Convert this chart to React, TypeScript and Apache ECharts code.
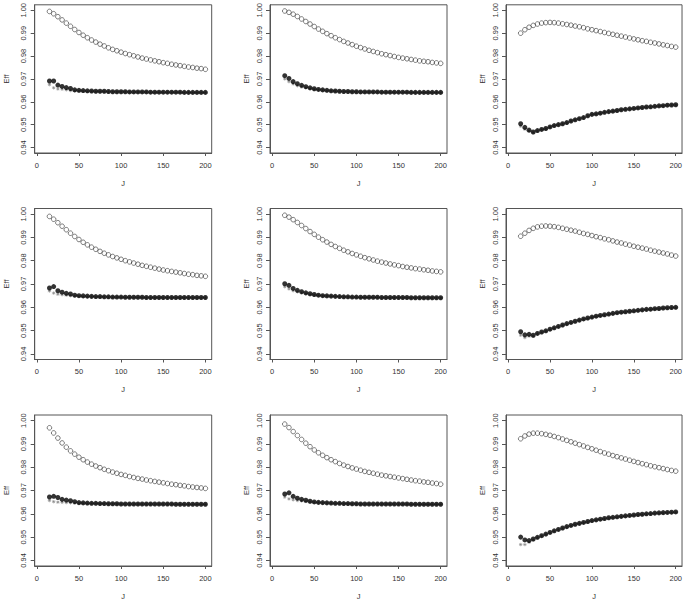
import React, { useEffect, useRef } from "react";
import * as echarts from "echarts";

const J = [15,20,25,30,35,40,45,50,55,60,65,70,75,80,85,90,95,100,105,110,115,120,125,130,135,140,145,150,155,160,165,170,175,180,185,190,195,200];
const xTicks = [0, 50, 100, 150, 200];
const yTicks = [0.94, 0.95, 0.96, 0.97, 0.98, 0.99, 1.0];

const p1Open = [0.9995,0.9985,0.9972,0.9958,0.9944,0.9930,0.9916,0.9903,0.9891,0.9880,0.9870,0.9861,0.9852,0.9844,0.9836,0.9829,0.9823,0.9817,0.9811,0.9806,0.9801,0.9796,0.9791,0.9787,0.9783,0.9779,0.9775,0.9771,0.9768,0.9764,0.9761,0.9758,0.9755,0.9752,0.9750,0.9747,0.9745,0.9742];
const p1Fill = [0.9691,0.9691,0.9673,0.9667,0.9662,0.9658,0.9652,0.9650,0.9649,0.9648,0.9647,0.9646,0.9646,0.9646,0.9645,0.9644,0.9644,0.9644,0.9644,0.9643,0.9643,0.9643,0.9643,0.9643,0.9642,0.9642,0.9642,0.9642,0.9642,0.9642,0.9642,0.9642,0.9641,0.9641,0.9641,0.9641,0.9641,0.9641];
const p1Gray = [0.9675,0.9661,0.9656,0.9655,0.9652,0.9649,0.9648,0.9647,0.9646,0.9645,0.9645,0.9644,0.9644,0.9644,0.9643,0.9643,0.9643,0.9643,0.9643,0.9642,0.9642,0.9642,0.9642,0.9642,0.9641,0.9641,0.9641,0.9641,0.9641,0.9641,0.9641,0.9641,0.9640,0.9640,0.9640,0.9640,0.9640,0.9640];

const p2Open = [0.9997,0.9991,0.9983,0.9973,0.9962,0.9951,0.9940,0.9929,0.9918,0.9908,0.9898,0.9889,0.9880,0.9872,0.9864,0.9857,0.9850,0.9843,0.9837,0.9831,0.9825,0.9820,0.9815,0.9810,0.9806,0.9802,0.9798,0.9794,0.9791,0.9788,0.9785,0.9782,0.9779,0.9777,0.9775,0.9772,0.9770,0.9768];
const p2Fill = [0.9714,0.9702,0.9688,0.9679,0.9672,0.9666,0.9661,0.9657,0.9654,0.9652,0.9650,0.9648,0.9647,0.9646,0.9645,0.9645,0.9644,0.9644,0.9643,0.9643,0.9643,0.9643,0.9643,0.9642,0.9642,0.9642,0.9642,0.9642,0.9642,0.9642,0.9641,0.9641,0.9641,0.9641,0.9641,0.9641,0.9641,0.9641];
const p2Gray = [0.9700,0.9688,0.9678,0.9670,0.9665,0.9661,0.9657,0.9654,0.9652,0.9650,0.9648,0.9647,0.9646,0.9645,0.9644,0.9644,0.9643,0.9643,0.9642,0.9642,0.9642,0.9642,0.9642,0.9641,0.9641,0.9641,0.9641,0.9641,0.9641,0.9641,0.9640,0.9640,0.9640,0.9640,0.9640,0.9640,0.9640,0.9640];

const p3Open = [0.9900,0.9915,0.9926,0.9934,0.9940,0.9944,0.9946,0.9947,0.9946,0.9944,0.9941,0.9938,0.9935,0.9931,0.9928,0.9924,0.9919,0.9915,0.9911,0.9907,0.9903,0.9899,0.9895,0.9891,0.9887,0.9883,0.9879,0.9875,0.9871,0.9867,0.9864,0.9860,0.9857,0.9853,0.9849,0.9846,0.9842,0.9839];
const p3Fill = [0.9504,0.9488,0.9476,0.9468,0.9474,0.9479,0.9483,0.9490,0.9496,0.9500,0.9504,0.9509,0.9516,0.9521,0.9526,0.9531,0.9539,0.9545,0.9547,0.9550,0.9554,0.9557,0.9559,0.9562,0.9565,0.9567,0.9569,0.9571,0.9573,0.9575,0.9577,0.9578,0.9580,0.9582,0.9583,0.9585,0.9586,0.9587];
const p3Gray = [0.9493,0.9480,0.9472,0.9466,0.9472,0.9478,0.9482,0.9489,0.9495,0.9499,0.9503,0.9508,0.9515,0.9520,0.9525,0.9530,0.9538,0.9544,0.9546,0.9549,0.9553,0.9556,0.9558,0.9561,0.9564,0.9566,0.9568,0.9570,0.9572,0.9574,0.9576,0.9577,0.9579,0.9581,0.9582,0.9584,0.9585,0.9586];

const p4Open = [0.9990,0.9978,0.9963,0.9948,0.9933,0.9918,0.9904,0.9891,0.9879,0.9868,0.9858,0.9849,0.9840,0.9832,0.9825,0.9818,0.9812,0.9806,0.9800,0.9795,0.9790,0.9785,0.9780,0.9776,0.9772,0.9768,0.9764,0.9760,0.9757,0.9754,0.9751,0.9748,0.9745,0.9742,0.9740,0.9737,0.9735,0.9733];
const p4Fill = [0.9683,0.9689,0.9671,0.9665,0.9660,0.9657,0.9652,0.9650,0.9649,0.9648,0.9647,0.9646,0.9646,0.9645,0.9645,0.9644,0.9644,0.9644,0.9643,0.9643,0.9643,0.9643,0.9643,0.9642,0.9642,0.9642,0.9642,0.9642,0.9642,0.9642,0.9642,0.9642,0.9642,0.9642,0.9642,0.9642,0.9642,0.9642];
const p4Gray = [0.9670,0.9661,0.9656,0.9654,0.9652,0.9650,0.9648,0.9647,0.9646,0.9645,0.9645,0.9644,0.9644,0.9644,0.9643,0.9643,0.9643,0.9643,0.9642,0.9642,0.9642,0.9642,0.9642,0.9641,0.9641,0.9641,0.9641,0.9641,0.9641,0.9641,0.9641,0.9641,0.9641,0.9641,0.9641,0.9641,0.9641,0.9641];

const p5Open = [0.9995,0.9987,0.9976,0.9964,0.9951,0.9938,0.9925,0.9913,0.9901,0.9890,0.9880,0.9870,0.9861,0.9853,0.9845,0.9838,0.9831,0.9825,0.9819,0.9813,0.9808,0.9803,0.9798,0.9794,0.9790,0.9786,0.9782,0.9779,0.9775,0.9772,0.9769,0.9766,0.9764,0.9761,0.9759,0.9756,0.9754,0.9752];
const p5Fill = [0.9701,0.9694,0.9681,0.9673,0.9667,0.9662,0.9658,0.9655,0.9652,0.9650,0.9649,0.9648,0.9647,0.9646,0.9645,0.9645,0.9644,0.9644,0.9643,0.9643,0.9643,0.9643,0.9643,0.9642,0.9642,0.9642,0.9642,0.9642,0.9642,0.9642,0.9641,0.9641,0.9641,0.9641,0.9641,0.9641,0.9641,0.9641];
const p5Gray = [0.9688,0.9679,0.9671,0.9666,0.9662,0.9659,0.9655,0.9653,0.9651,0.9649,0.9648,0.9647,0.9646,0.9645,0.9644,0.9644,0.9643,0.9643,0.9642,0.9642,0.9642,0.9642,0.9642,0.9641,0.9641,0.9641,0.9641,0.9641,0.9641,0.9641,0.9640,0.9640,0.9640,0.9640,0.9640,0.9640,0.9640,0.9640];

const p6Open = [0.9905,0.9918,0.9930,0.9939,0.9945,0.9948,0.9949,0.9948,0.9946,0.9943,0.9939,0.9935,0.9931,0.9927,0.9922,0.9917,0.9913,0.9908,0.9903,0.9899,0.9894,0.9890,0.9885,0.9880,0.9876,0.9871,0.9867,0.9862,0.9858,0.9854,0.9850,0.9845,0.9841,0.9837,0.9833,0.9829,0.9824,0.9820];
const p6Fill = [0.9495,0.9482,0.9484,0.9480,0.9488,0.9494,0.9499,0.9506,0.9512,0.9518,0.9524,0.9530,0.9535,0.9540,0.9545,0.9550,0.9554,0.9558,0.9562,0.9565,0.9568,0.9571,0.9574,0.9577,0.9579,0.9581,0.9583,0.9585,0.9587,0.9589,0.9591,0.9592,0.9594,0.9595,0.9597,0.9598,0.9599,0.9600];
const p6Gray = [0.9480,0.9470,0.9476,0.9476,0.9486,0.9492,0.9497,0.9504,0.9510,0.9516,0.9522,0.9528,0.9533,0.9538,0.9543,0.9548,0.9552,0.9556,0.9560,0.9563,0.9566,0.9569,0.9572,0.9575,0.9577,0.9579,0.9581,0.9583,0.9585,0.9587,0.9589,0.9590,0.9592,0.9593,0.9595,0.9596,0.9597,0.9598];

const p7Open = [0.9969,0.9947,0.9925,0.9904,0.9886,0.9870,0.9856,0.9843,0.9832,0.9822,0.9813,0.9805,0.9798,0.9791,0.9785,0.9779,0.9774,0.9769,0.9765,0.9760,0.9756,0.9752,0.9749,0.9745,0.9742,0.9739,0.9736,0.9733,0.9730,0.9727,0.9725,0.9722,0.9720,0.9717,0.9715,0.9713,0.9711,0.9709];
const p7Fill = [0.9672,0.9675,0.9670,0.9662,0.9659,0.9656,0.9652,0.9648,0.9647,0.9646,0.9645,0.9645,0.9644,0.9644,0.9643,0.9643,0.9643,0.9642,0.9642,0.9642,0.9642,0.9642,0.9642,0.9642,0.9642,0.9642,0.9642,0.9642,0.9642,0.9642,0.9641,0.9641,0.9641,0.9641,0.9641,0.9641,0.9641,0.9641];
const p7Gray = [0.9657,0.9652,0.9650,0.9649,0.9648,0.9647,0.9646,0.9645,0.9645,0.9644,0.9644,0.9644,0.9643,0.9643,0.9642,0.9642,0.9642,0.9641,0.9641,0.9641,0.9641,0.9641,0.9641,0.9641,0.9641,0.9641,0.9641,0.9641,0.9641,0.9641,0.9640,0.9640,0.9640,0.9640,0.9640,0.9640,0.9640,0.9640];

const p8Open = [0.9985,0.9970,0.9953,0.9936,0.9919,0.9903,0.9888,0.9874,0.9862,0.9851,0.9841,0.9832,0.9824,0.9816,0.9809,0.9803,0.9797,0.9792,0.9787,0.9782,0.9778,0.9774,0.9770,0.9766,0.9763,0.9760,0.9757,0.9754,0.9751,0.9748,0.9745,0.9742,0.9740,0.9737,0.9735,0.9732,0.9730,0.9727];
const p8Fill = [0.9685,0.9690,0.9675,0.9667,0.9662,0.9658,0.9654,0.9651,0.9649,0.9648,0.9647,0.9646,0.9645,0.9645,0.9644,0.9644,0.9643,0.9643,0.9642,0.9642,0.9642,0.9642,0.9642,0.9642,0.9642,0.9642,0.9642,0.9642,0.9642,0.9642,0.9641,0.9641,0.9641,0.9641,0.9641,0.9641,0.9641,0.9641];
const p8Gray = [0.9672,0.9664,0.9660,0.9657,0.9655,0.9653,0.9651,0.9649,0.9648,0.9647,0.9646,0.9645,0.9644,0.9644,0.9643,0.9643,0.9642,0.9642,0.9641,0.9641,0.9641,0.9641,0.9641,0.9641,0.9641,0.9641,0.9641,0.9641,0.9641,0.9641,0.9640,0.9640,0.9640,0.9640,0.9640,0.9640,0.9640,0.9640];

const p9Open = [0.9922,0.9934,0.9942,0.9946,0.9946,0.9944,0.9941,0.9937,0.9932,0.9927,0.9921,0.9915,0.9909,0.9903,0.9897,0.9891,0.9885,0.9879,0.9873,0.9867,0.9861,0.9856,0.9850,0.9845,0.9840,0.9835,0.9830,0.9825,0.9820,0.9815,0.9811,0.9806,0.9802,0.9798,0.9794,0.9790,0.9786,0.9783];
const p9Fill = [0.9500,0.9488,0.9485,0.9492,0.9499,0.9506,0.9513,0.9520,0.9527,0.9533,0.9539,0.9545,0.9550,0.9555,0.9559,0.9563,0.9567,0.9571,0.9574,0.9577,0.9580,0.9583,0.9585,0.9587,0.9589,0.9591,0.9593,0.9595,0.9597,0.9598,0.9600,0.9601,0.9603,0.9604,0.9605,0.9606,0.9607,0.9608];
const p9Gray = [0.9468,0.9468,0.9478,0.9488,0.9497,0.9504,0.9511,0.9518,0.9525,0.9531,0.9537,0.9543,0.9548,0.9553,0.9557,0.9561,0.9565,0.9569,0.9572,0.9575,0.9578,0.9581,0.9583,0.9585,0.9587,0.9589,0.9591,0.9593,0.9595,0.9596,0.9598,0.9599,0.9601,0.9602,0.9603,0.9604,0.9605,0.9606];

const panels = [
  { open: p1Open, fill: p1Fill, gray: p1Gray },
  { open: p2Open, fill: p2Fill, gray: p2Gray },
  { open: p3Open, fill: p3Fill, gray: p3Gray },
  { open: p4Open, fill: p4Fill, gray: p4Gray },
  { open: p5Open, fill: p5Fill, gray: p5Gray },
  { open: p6Open, fill: p6Fill, gray: p6Gray },
  { open: p7Open, fill: p7Fill, gray: p7Gray },
  { open: p8Open, fill: p8Fill, gray: p8Gray },
  { open: p9Open, fill: p9Fill, gray: p9Gray },
];

const colLeft = [34.7, 270, 506];
const rowTop = [2, 208.5, 415];
const boxW = 177;
const boxH = 151;
const nameGaps = [24, 20, 20];

const FONT = "'Liberation Sans', Arial, sans-serif";
const AXIS_COLOR = "#555";
const TEXT_COLOR = "#333";

const starPath = "path://M5,0L5,10M0,5L10,5M1.5,1.5L8.5,8.5M8.5,1.5L1.5,8.5";

export default function App() {
  const ref = useRef<HTMLDivElement>(null);
  useEffect(() => {
    if (!ref.current) return;
    const chart = echarts.init(ref.current, undefined, { renderer: "svg" });
    const grid: any[] = [];
    const xAxis: any[] = [];
    const yAxis: any[] = [];
    const series: any[] = [];
    panels.forEach((p, i) => {
      const r = Math.floor(i / 3);
      const c = i % 3;
      grid.push({
        left: colLeft[c], top: rowTop[r], width: boxW, height: boxH,
        show: true, borderColor: AXIS_COLOR, borderWidth: 1, backgroundColor: "transparent",
      });
      xAxis.push({
        type: "value", gridIndex: i, min: -2.5, max: 207.5,
        name: "J", nameLocation: "middle", nameGap: 26,
        nameTextStyle: { fontFamily: FONT, fontSize: 7.5, color: TEXT_COLOR },
        axisLine: { show: true, onZero: false, lineStyle: { color: AXIS_COLOR, width: 1 } },
        axisTick: { show: true, customValues: xTicks, length: 3, lineStyle: { color: AXIS_COLOR } },
        axisLabel: { show: true, customValues: xTicks, margin: 8, fontFamily: FONT, fontSize: 7.5, color: TEXT_COLOR, formatter: (v: number) => String(v) },
        splitLine: { show: false },
      });
      yAxis.push({
        type: "value", gridIndex: i, min: 0.9376, max: 1.0024,
        name: "Eff", nameLocation: "middle", nameGap: nameGaps[c], nameRotate: 90,
        nameTextStyle: { fontFamily: FONT, fontSize: 7.5, color: TEXT_COLOR },
        axisLine: { show: true, onZero: false, lineStyle: { color: AXIS_COLOR, width: 1 } },
        axisTick: { show: true, customValues: yTicks, length: 4, lineStyle: { color: AXIS_COLOR } },
        axisLabel: { show: true, customValues: yTicks, rotate: 90, margin: 7, fontFamily: FONT, fontSize: 7.5, color: TEXT_COLOR, formatter: (v: number) => v.toFixed(2) },
        splitLine: { show: false },
      });
      series.push({
        type: "scatter", xAxisIndex: i, yAxisIndex: i,
        symbol: "circle", symbolSize: 4.6,
        itemStyle: { color: "rgba(0,0,0,0)", borderColor: "#333", borderWidth: 0.8 },
        data: J.map((j, k) => [j, p.open[k]]),
      });
      series.push({
        type: "scatter", xAxisIndex: i, yAxisIndex: i,
        symbol: starPath, symbolSize: 3.4,
        itemStyle: { color: "rgba(0,0,0,0)", borderColor: "#888", borderWidth: 0.8 },
        data: J.map((j, k) => [j, p.gray[k]]),
      });
      series.push({
        type: "scatter", xAxisIndex: i, yAxisIndex: i,
        symbol: "circle", symbolSize: 5,
        itemStyle: { color: "#000" },
        data: J.map((j, k) => [j, p.fill[k]]),
      });
    });
    chart.setOption({
      animation: false,
      backgroundColor: "#fff",
      grid, xAxis, yAxis, series,
    });
    return () => chart.dispose();
  }, []);
  return <div ref={ref} style={{ position: "absolute", left: 0, top: 0, width: 685, height: 602 }} />;
}
